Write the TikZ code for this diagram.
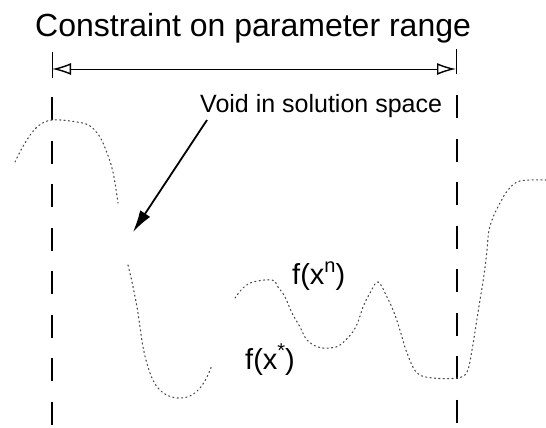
\documentclass[tikz,border=0pt]{standalone}
\usepackage{fontspec}
\setmainfont{Liberation Sans}
\usetikzlibrary{arrows.meta}
\tikzset{
  lbl/.style={anchor=base west, inner sep=0pt, text=black},
  guide/.style={line width=1.1pt, dash pattern=on 23pt off 20.5pt},
  curve/.style={line width=1.1pt, color=black!70, dash pattern=on 1.2pt off 3.2pt, line cap=round},
  bar/.style={line width=1pt},
  rangearrow/.style={line width=0.9pt, {Latex[length=19pt,width=12pt,open,line width=1.4pt]}-{Latex[length=19pt,width=12pt,open,line width=1.4pt]}},
}
\begin{document}
\begin{tikzpicture}[x=1pt,y=-1pt]
\useasboundingbox[fill=white] (0,0) rectangle (546,428);
% title
\node[lbl, font=\fontsize{32}{32}\selectfont] (title) at (35,37) {Constraint on parameter range};
% range arrow
\coordinate (al) at (52,69);
\coordinate (ar) at (456,69);
\coordinate (alt) at (52,52); \coordinate (alb) at (52,78);
\coordinate (art) at (456,49); \coordinate (arb) at (456,74);
\draw[bar] (alt) -- (alb);
\draw[bar] (art) -- (arb);
\draw[rangearrow] (al) -- (ar);
% guides
\coordinate (gl1) at (52,97); \coordinate (gl2) at (52,428);
\coordinate (gr1) at (457,95); \coordinate (gr2) at (457,428);
\draw[guide] (gl1) -- (gl2);
\draw[guide] (gr1) -- (gr2);
% void label and arrow
\node[lbl, font=\fontsize{25}{25}\selectfont] (void) at (200,112) {Void in solution space};
\coordinate (vs) at (207,120);
\coordinate (vt) at (133,232);
\draw[line width=1.8pt, -{Latex[length=22pt,width=12pt]}] (vs) -- (vt);
% curve segments
\draw[curve] plot[smooth, tension=0.6] coordinates {(15,162) (25,143) (37,127) (52,120) (77,122) (90,126) (100,137) (107,153) (112,168) (115,183) (118,203)};
\draw[curve] plot[smooth, tension=0.6] coordinates {(128,265) (132,282) (137,307) (140,327) (143,347) (148,367) (155,384) (165,394) (177,398) (190,396) (200,388) (207,377) (212,365)};
\draw[curve] plot[smooth, tension=0.6] coordinates {(235,298) (243,288) (253,282) (272,280) (278,287) (285,297) (292,313) (300,327) (307,340) (318,347) (330,348) (340,345) (352,333) (358,322) (363,307) (370,293) (378,282) (387,297) (395,315) (402,337) (407,353) (417,373) (433,378) (457,378) (467,372) (472,350) (476,325) (480,300) (484,275) (487,250) (489,230) (494,215) (500,203) (508,190) (520,181) (546,180)};
% function labels
\node[lbl, font=\fontsize{29}{29}\selectfont] (fn) at (292,284) {f(x\raisebox{0.4em}{\fontsize{20}{20}\selectfont n})};
\node[lbl, font=\fontsize{29}{29}\selectfont] (fs) at (245,369) {f(x\raisebox{0.4em}{\fontsize{20}{20}\selectfont *})};
\end{tikzpicture}
\end{document}
